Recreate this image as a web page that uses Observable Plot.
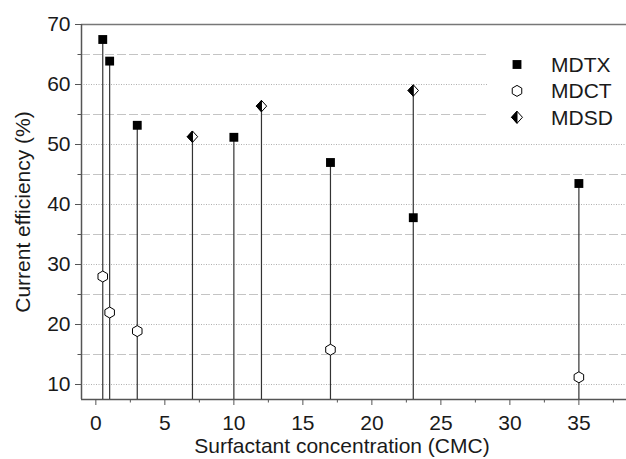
<!DOCTYPE html>
<html><head><meta charset="utf-8">
<script src="https://cdn.jsdelivr.net/npm/d3@7"></script>
<script src="https://cdn.jsdelivr.net/npm/@observablehq/plot@0.6"></script>
<style>
body{margin:0;background:#fff;font-family:"Liberation Sans",Arial,Helvetica,sans-serif}
#wrap{position:relative;width:626px;height:459px}
#legend{position:absolute;left:487px;top:40px;width:139px;height:95px;background:#fff}
</style></head><body><div id="wrap"><div id="legend"></div></div>
<script>
const series = ["MDTX", "MDCT", "MDSD"];
const mdtxX = [0.5, 1, 3, 10, 17, 23, 35];
const mdtxY = [67.5, 63.9, 53.2, 51.2, 47.0, 37.8, 43.5];
const mdctX = [0.5, 1, 3, 17, 35];
const mdctY = [28.0, 22.0, 18.9, 15.8, 11.2];
const mdsdX = [7, 12, 23];
const mdsdY = [51.3, 56.4, 59.0];
const xTicks = [0, 5, 10, 15, 20, 25, 30, 35];
const xMinorTicks = [2.5, 7.5, 12.5, 17.5, 22.5, 27.5, 32.5, 37.5];
const yTicks = [10, 20, 30, 40, 50, 60, 70];
const yMinorTicks = [15, 25, 35, 45, 55, 65];
const xDomain = [-1.04, 38.45];
const yDomain = [7.5, 70];
const xLabel = "Surfactant concentration (CMC)";
const yLabel = "Current efficiency (%)";

const mdtx = mdtxX.map((x, i) => ({x, y: mdtxY[i]}));
const mdct = mdctX.map((x, i) => ({x, y: mdctY[i]}));
const mdsd = mdsdX.map((x, i) => ({x, y: mdsdY[i]}));
const tops = d3.rollups([...mdtx, ...mdct, ...mdsd], v => d3.max(v, d => d.y), d => d.x)
  .map(([x, y]) => ({x, y}));

const rad = size => Math.sqrt(size / Math.PI);
const hexagon = {draw(ctx, size) {
  const r = rad(size);
  for (let i = 0; i < 6; i++) {
    const a = Math.PI / 3 * i - Math.PI / 2;
    const px = r * Math.cos(a), py = r * Math.sin(a);
    if (i) ctx.lineTo(px, py); else ctx.moveTo(px, py);
  }
  ctx.closePath();
}};
const diamond = {draw(ctx, size) {
  const r = rad(size);
  ctx.moveTo(0, -r * 1.1); ctx.lineTo(r, 0); ctx.lineTo(0, r * 1.1); ctx.lineTo(-r, 0); ctx.closePath();
}};
const halfDiamond = {draw(ctx, size) {
  const r = rad(size);
  ctx.moveTo(0, -r * 1.1); ctx.lineTo(0, r * 1.1); ctx.lineTo(-r, 0); ctx.closePath();
}};

const ink = "#1a1a1a";
const chart = Plot.plot({
  width: 626, height: 459,
  marginLeft: 81, marginRight: 0, marginTop: 24, marginBottom: 60,
  style: {fontFamily: '"Liberation Sans", Arial, sans-serif', fontSize: "21px", color: ink, background: "#fff"},
  x: {domain: xDomain, axis: null},
  y: {domain: yDomain, axis: null},
  marks: [
    Plot.ruleY(yTicks.filter(v => v < 70), {stroke: "#b0b0b0", strokeDasharray: "1,1.5", strokeWidth: 1}),
    Plot.ruleY(yMinorTicks, {stroke: "#c4c4c4", strokeDasharray: "9,3", strokeWidth: 1}),
    Plot.ruleY([yDomain[1]], {stroke: "#777", strokeWidth: 1.5}),
    Plot.ruleY([yDomain[0]], {stroke: "#555", strokeWidth: 1.5}),
    Plot.ruleX([xDomain[0]], {stroke: "#555", strokeWidth: 1.5}),
    Plot.axisY({ticks: yTicks, tickSize: 6, tickPadding: 5, fontSize: 21, stroke: "#555", fill: ink, label: null}),
    Plot.axisY({ticks: yMinorTicks, tickSize: 3.5, tickFormat: () => "", stroke: "#555", label: null}),
    Plot.axisX({ticks: xTicks, tickSize: 6, tickPadding: 10, fontSize: 21, stroke: "#555", fill: ink, label: null}),
    Plot.axisX({ticks: xMinorTicks, tickSize: 3.5, tickFormat: () => "", stroke: "#555", label: null}),
    Plot.ruleX(tops, {x: "x", y1: () => yDomain[0], y2: "y", stroke: "#333", strokeWidth: 1.2}),
    Plot.dot(mdtx, {x: "x", y: "y", symbol: "square", r: 5, fill: "#000", stroke: "none"}),
    Plot.dot(mdct, {x: "x", y: "y", symbol: hexagon, r: 5.5, fill: "#fff", stroke: "#000", strokeWidth: 1}),
    Plot.dot(mdsd, {x: "x", y: "y", symbol: diamond, r: 5.2, fill: "#fff", stroke: "#000", strokeWidth: 1}),
    Plot.dot(mdsd, {x: "x", y: "y", symbol: halfDiamond, r: 5.2, fill: "#000", stroke: "#000", strokeWidth: 1}),
    Plot.text([yLabel], {frameAnchor: "left", textAnchor: "middle", lineAnchor: "middle", text: d => d, rotate: -90, dx: -58, fontSize: 21, fill: ink}),
    Plot.text([xLabel], {frameAnchor: "bottom", textAnchor: "middle", lineAnchor: "middle", text: d => d, dy: 47, dx: -12, fontSize: 21, fill: ink})
  ]
});
document.getElementById("wrap").prepend(chart);

// Legend (HTML overlay with white background covering gridlines)
const lg = d3.select("#legend").append("svg").attr("width", 139).attr("height", 95);
const sym = [
  d3.symbol(d3.symbolSquare, 25 * Math.PI)(),
  d3.symbol(hexagon, 30.25 * Math.PI)(),
  d3.symbol(diamond, 30 * Math.PI)()
];
series.forEach((name, i) => {
  const g = lg.append("g").attr("transform", `translate(30,${24.5 + i * 26.4})`);
  if (i === 0) g.append("path").attr("d", sym[0]).attr("fill", "#000");
  if (i === 1) g.append("path").attr("d", sym[1]).attr("fill", "#fff").attr("stroke", "#000");
  if (i === 2) {
    g.append("path").attr("d", sym[2]).attr("fill", "#fff").attr("stroke", "#000");
    g.append("path").attr("d", d3.symbol(halfDiamond, 30 * Math.PI)()).attr("fill", "#000").attr("stroke", "#000");
  }
  lg.append("text").attr("x", 64).attr("y", 24.5 + i * 26.4).attr("dy", "0.36em")
    .attr("font-size", 21).attr("fill", ink)
    .attr("font-family", '"Liberation Sans", Arial, sans-serif').text(name);
});
</script>
</body></html>
